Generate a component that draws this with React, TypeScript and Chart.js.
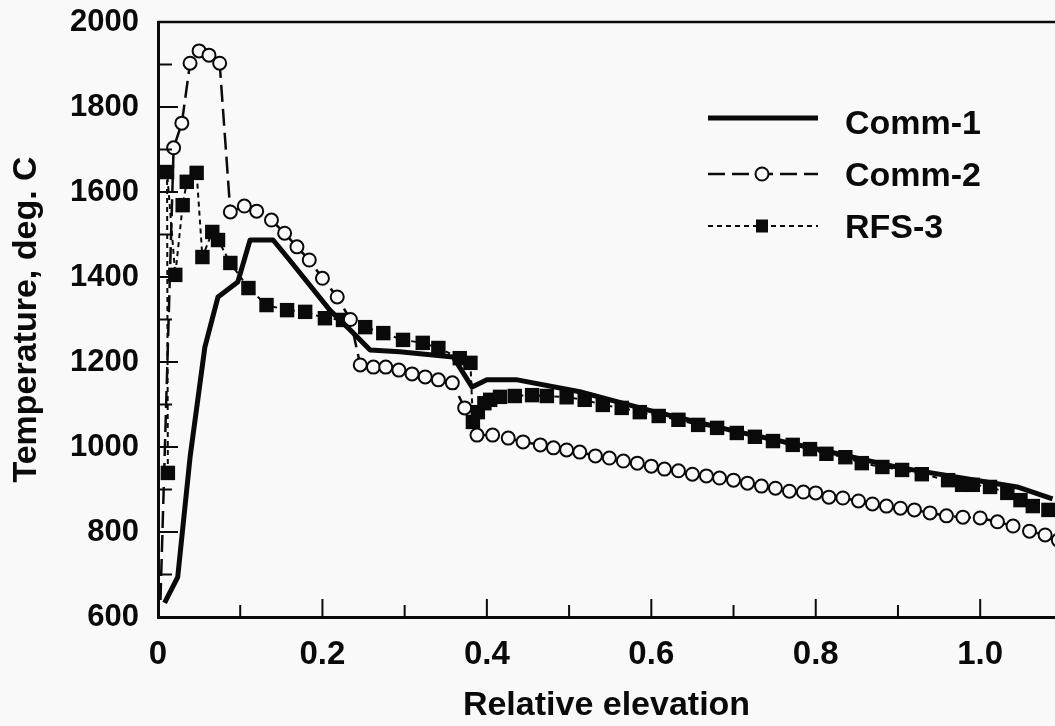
import React, { useEffect, useRef } from 'react';
import { Chart, registerables } from 'chart.js';

Chart.register(...registerables);

// ---- Axis ranges & ticks ----
const X_MIN = 0;
const X_MAX = 1.091;
const Y_MIN = 600;
const Y_MAX = 2000;
const X_TICKS = [0, 0.2, 0.4, 0.6, 0.8, 1.0];
const X_TICK_LABELS = ['0', '0.2', '0.4', '0.6', '0.8', '1.0'];
const X_MINOR_TICKS = [0.1, 0.3, 0.5, 0.7, 0.9];
const Y_TICKS = [600, 800, 1000, 1200, 1400, 1600, 1800, 2000];
const Y_MINOR_TICKS = [700, 900, 1100, 1300, 1500, 1700, 1900];

const X_TITLE = 'Relative elevation';
const Y_TITLE = 'Temperature, deg. C';
const SERIES_NAMES = ['Comm-1', 'Comm-2', 'RFS-3'];

// ---- Series: Comm-1 (solid) ----
const COMM1_X = [0.008, 0.024, 0.039, 0.057, 0.073, 0.097, 0.112, 0.140, 0.160, 0.209, 0.234, 0.258, 0.294, 0.359, 0.382, 0.400, 0.437, 0.513, 0.600, 0.700, 0.800, 0.900, 1.000, 1.045, 1.088];
const COMM1_Y = [633, 694, 976, 1235, 1353, 1388, 1487, 1487, 1440, 1322, 1275, 1228, 1224, 1212, 1141, 1158, 1158, 1130, 1085, 1038, 996, 952, 920, 906, 878];

// ---- Series: Comm-2 (dashed, open circles) ----
const COMM2_X = [0.003, 0.019, 0.029, 0.039, 0.050, 0.062, 0.075, 0.088, 0.105, 0.120, 0.138, 0.154, 0.169, 0.184, 0.200, 0.218, 0.234, 0.246, 0.262, 0.277, 0.293, 0.309, 0.325, 0.341, 0.358, 0.373, 0.388, 0.407, 0.426, 0.444, 0.465, 0.481, 0.497, 0.513, 0.532, 0.549, 0.566, 0.583, 0.600, 0.616, 0.633, 0.650, 0.667, 0.683, 0.700, 0.717, 0.734, 0.751, 0.768, 0.785, 0.800, 0.816, 0.833, 0.852, 0.869, 0.886, 0.903, 0.920, 0.939, 0.959, 0.979, 1.000, 1.021, 1.040, 1.060, 1.079, 1.095];
const COMM2_Y = [640, 1704, 1762, 1903, 1932, 1922, 1903, 1553, 1567, 1555, 1534, 1503, 1471, 1440, 1397, 1353, 1300, 1193, 1188, 1188, 1181, 1172, 1165, 1158, 1151, 1092, 1028, 1028, 1021, 1012, 1005, 998, 993, 988, 979, 974, 967, 962, 955, 948, 944, 936, 932, 927, 922, 915, 908, 903, 896, 894, 892, 882, 880, 873, 866, 861, 856, 852, 845, 838, 835, 833, 824, 814, 802, 793, 781];

// ---- Series: RFS-3 (short dashes, filled squares) ----
const RFS3_X = [0.012, 0.011, 0.021, 0.030, 0.035, 0.047, 0.054, 0.066, 0.073, 0.088, 0.110, 0.132, 0.157, 0.179, 0.203, 0.225, 0.252, 0.274, 0.298, 0.322, 0.341, 0.367, 0.380, 0.383, 0.389, 0.397, 0.404, 0.416, 0.434, 0.455, 0.473, 0.497, 0.519, 0.541, 0.564, 0.586, 0.609, 0.633, 0.657, 0.680, 0.704, 0.726, 0.748, 0.772, 0.793, 0.813, 0.836, 0.856, 0.881, 0.905, 0.929, 0.961, 0.978, 0.991, 1.012, 1.033, 1.049, 1.064, 1.083];
const RFS3_Y = [939, 1647, 1405, 1569, 1624, 1645, 1447, 1506, 1487, 1433, 1374, 1334, 1322, 1318, 1303, 1299, 1282, 1268, 1252, 1245, 1233, 1209, 1198, 1059, 1082, 1103, 1111, 1118, 1120, 1122, 1120, 1117, 1111, 1099, 1092, 1082, 1073, 1064, 1052, 1045, 1033, 1024, 1014, 1005, 995, 984, 976, 962, 953, 946, 936, 922, 911, 911, 906, 892, 875, 861, 852];

const BG = '#f9f9f9';
const INK = '#0a0a0a';
const FONT = '"Liberation Sans", Arial, Helvetica, sans-serif';

const toPoints = (xs: number[], ys: number[]) => xs.map((x, i) => ({ x, y: ys[i] }));

const frameAndTicks = {
  id: 'frameAndTicks',
  afterDraw(chart: any) {
    const { ctx, chartArea } = chart;
    const xs = chart.scales.x;
    const ys = chart.scales.y;
    ctx.save();
    ctx.strokeStyle = INK;
    ctx.lineCap = 'butt';
    // top frame line
    ctx.lineWidth = 2.5;
    ctx.beginPath();
    ctx.moveTo(chartArea.left, chartArea.top);
    ctx.lineTo(chartArea.right, chartArea.top);
    ctx.stroke();
    // inward ticks
    ctx.lineWidth = 2;
    const xTick = (v: number, len: number) => {
      const p = xs.getPixelForValue(v);
      ctx.beginPath();
      ctx.moveTo(p, chartArea.bottom);
      ctx.lineTo(p, chartArea.bottom - len);
      ctx.stroke();
    };
    const yTick = (v: number, len: number) => {
      const p = ys.getPixelForValue(v);
      ctx.beginPath();
      ctx.moveTo(chartArea.left, p);
      ctx.lineTo(chartArea.left + len, p);
      ctx.stroke();
    };
    X_TICKS.forEach((v) => xTick(v, 18));
    X_MINOR_TICKS.forEach((v) => xTick(v, 12));
    Y_TICKS.forEach((v) => yTick(v, 20));
    Y_MINOR_TICKS.forEach((v) => yTick(v, 14));
    ctx.restore();
  },
};

const customLegend = {
  id: 'customLegend',
  afterDraw(chart: any) {
    const { ctx, chartArea } = chart;
    const x0 = chartArea.left + 550;
    const x1 = x0 + 110;
    const xm = (x0 + x1) / 2 - 1;
    const textX = chartArea.left + 687;
    const rows = [96, 152, 204];
    const textOff = [7, 3, 3];
    ctx.save();
    chart.data.datasets.forEach((ds: any, i: number) => {
      const y = chartArea.top + rows[i];
      ctx.strokeStyle = ds.borderColor;
      ctx.lineWidth = ds.borderWidth;
      ctx.setLineDash(ds.borderDash || []);
      ctx.beginPath();
      ctx.moveTo(x0, y);
      ctx.lineTo(x1, y);
      ctx.stroke();
      ctx.setLineDash([]);
      if (ds.legendMarker === 'circle') {
        ctx.fillStyle = BG;
        ctx.lineWidth = 2;
        ctx.beginPath();
        ctx.arc(xm, y, 6.5, 0, Math.PI * 2);
        ctx.fill();
        ctx.stroke();
      } else if (ds.legendMarker === 'rect') {
        ctx.fillStyle = INK;
        ctx.fillRect(xm - 6, y - 6.5, 12, 13);
      }
      ctx.fillStyle = INK;
      ctx.font = `bold 34px ${FONT}`;
      ctx.textAlign = 'left';
      ctx.textBaseline = 'middle';
      ctx.fillText(SERIES_NAMES[i], textX, y + textOff[i]);
    });
    ctx.restore();
  },
};

export default function App() {
  const ref = useRef<HTMLCanvasElement | null>(null);

  useEffect(() => {
    document.body.style.margin = '0';
    document.body.style.background = BG;
    const canvas = ref.current;
    if (!canvas) return;
    const chart = new Chart(canvas, {
      type: 'line',
      data: {
        datasets: [
          {
            label: SERIES_NAMES[0],
            data: toPoints(COMM1_X, COMM1_Y),
            borderColor: INK,
            borderWidth: 5,
            pointRadius: 0,
            tension: 0,
            borderJoinStyle: 'round',
            legendMarker: 'none',
          } as any,
          {
            label: SERIES_NAMES[1],
            data: toPoints(COMM2_X, COMM2_Y),
            borderColor: INK,
            borderWidth: 2.5,
            borderDash: [17, 7],
            pointStyle: 'circle',
            pointRadius: COMM2_X.map((_, i) => (i === 0 ? 0 : 6.5)),
            pointBorderWidth: 2,
            pointBorderColor: INK,
            pointBackgroundColor: BG,
            tension: 0,
            legendMarker: 'circle',
          } as any,
          {
            label: SERIES_NAMES[2],
            data: toPoints(RFS3_X, RFS3_Y),
            borderColor: INK,
            borderWidth: 2,
            borderDash: [5, 4],
            pointStyle: 'rect',
            pointRadius: 10.2,
            pointBorderWidth: 0,
            pointBorderColor: INK,
            pointBackgroundColor: INK,
            tension: 0,
            legendMarker: 'rect',
          } as any,
        ],
      },
      options: {
        responsive: false,
        animation: false,
        events: [],
        layout: { autoPadding: false, padding: { top: 22, left: 0, right: 0, bottom: 0 } },
        plugins: {
          legend: { display: false },
          tooltip: { enabled: false },
          title: { display: false },
        },
        scales: {
          x: {
            type: 'linear',
            min: X_MIN,
            max: X_MAX,
            afterBuildTicks: (scale: any) => {
              scale.ticks = X_TICKS.map((v) => ({ value: v }));
            },
            afterFit: (scale: any) => {
              scale.height = 109;
              scale.paddingLeft = 0;
              scale.paddingRight = 0;
            },
            grid: { display: true, drawOnChartArea: false, drawTicks: false },
            border: { display: true, color: INK, width: 3 },
            ticks: {
              color: INK,
              padding: 18,
              maxRotation: 0,
              autoSkip: false,
              font: { family: FONT, size: 33, weight: 'bold' },
              callback: (v: any) => {
                const idx = X_TICKS.findIndex((t) => Math.abs(t - Number(v)) < 1e-9);
                return idx >= 0 ? X_TICK_LABELS[idx] : '';
              },
            },
            title: {
              display: true,
              text: X_TITLE,
              color: INK,
              font: { family: FONT, size: 34, weight: 'bold', lineHeight: 1 },
              padding: { top: 0, bottom: 3 },
            },
          },
          y: {
            type: 'linear',
            min: Y_MIN,
            max: Y_MAX,
            afterBuildTicks: (scale: any) => {
              scale.ticks = Y_TICKS.map((v) => ({ value: v }));
            },
            afterFit: (scale: any) => {
              scale.width = 158;
              scale.paddingTop = 0;
              scale.paddingBottom = 0;
            },
            grid: { display: true, drawOnChartArea: false, drawTicks: false },
            border: { display: true, color: INK, width: 3 },
            ticks: {
              color: INK,
              padding: 19,
              autoSkip: false,
              font: { family: FONT, size: 31, weight: 'bold' },
              callback: (v: any) => String(v),
            },
            title: {
              display: true,
              text: Y_TITLE,
              color: INK,
              font: { family: FONT, size: 34, weight: 'bold', lineHeight: 1 },
              padding: { top: 10, bottom: 0 },
            },
          },
        },
      },
      plugins: [frameAndTicks, customLegend],
    });
    return () => chart.destroy();
  }, []);

  return (
    <div
      style={{
        position: 'fixed',
        left: 0,
        top: 0,
        width: 1055,
        height: 726,
        background: BG,
        overflow: 'hidden',
      }}
    >
      <canvas ref={ref} width={1055} height={726} style={{ display: 'block' }} />
    </div>
  );
}
